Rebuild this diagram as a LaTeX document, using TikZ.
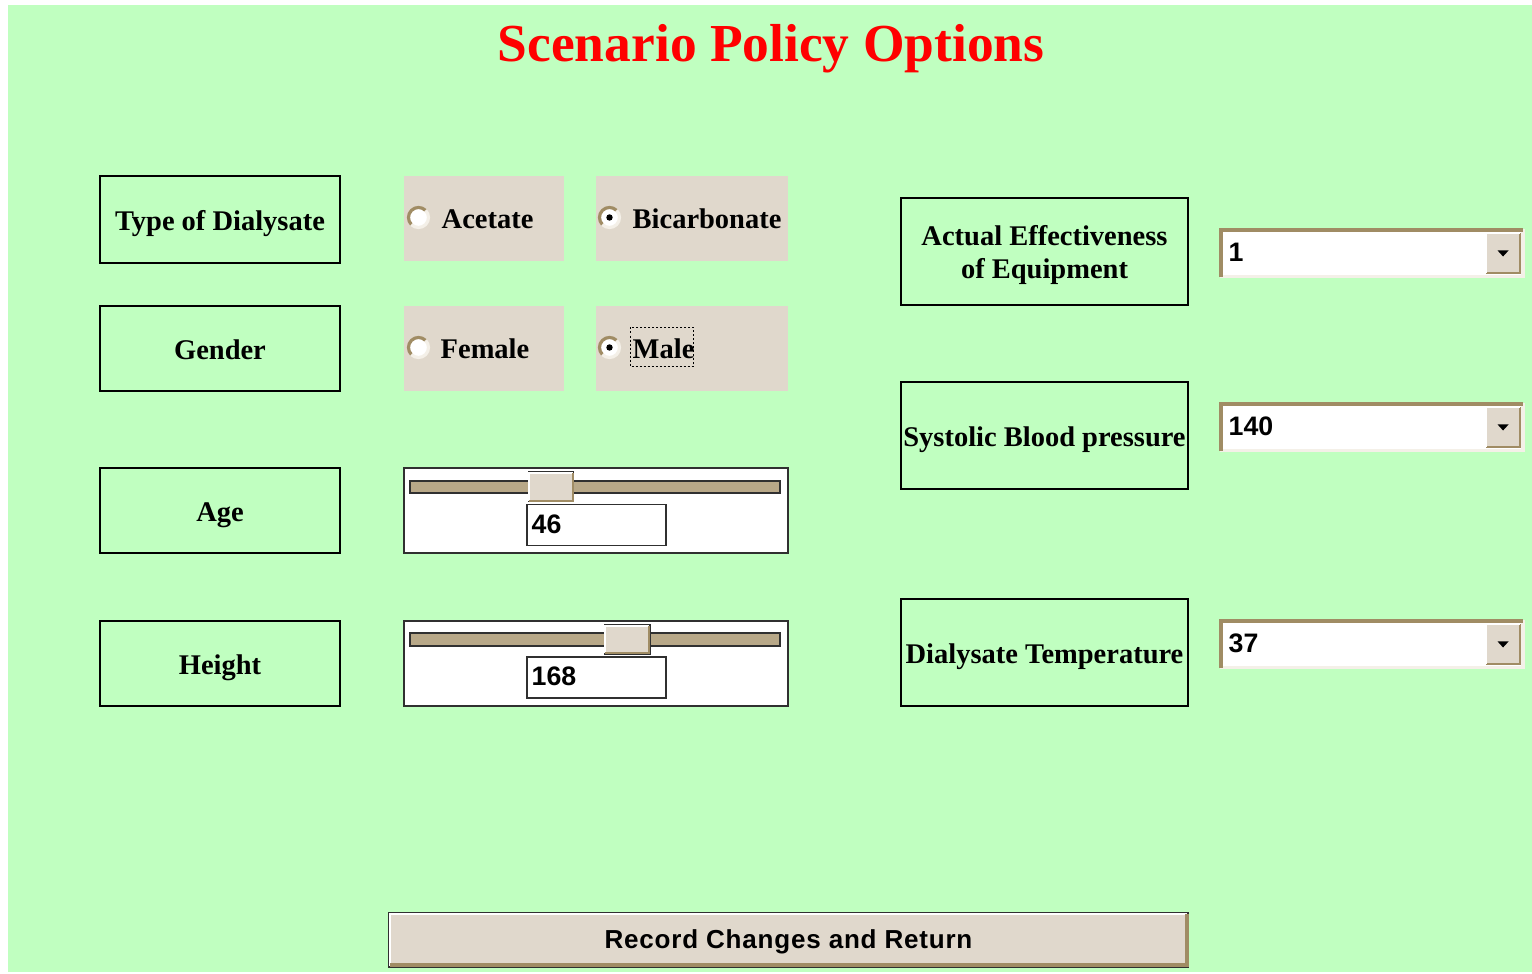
\documentclass[tikz,border=0pt]{standalone}
\usepackage{fontspec}
\setmainfont{Liberation Serif}
\setsansfont{Liberation Sans}
\definecolor{bggreen}{RGB}{192,255,192}
\definecolor{panel}{RGB}{224,216,204}
\definecolor{track}{RGB}{184,168,136}
\definecolor{tanedge}{RGB}{160,140,100}
\definecolor{lightedge}{RGB}{244,240,232}
\definecolor{darkedge}{RGB}{48,48,48}
\tikzset{
  lbl/.style={draw=black, line width=0.6pt, align=center, inner sep=0pt,
    font=\fontsize{8.1}{9.6}\selectfont\bfseries},
  onelbl/.style={lbl, text height=7pt, text depth=1pt},
  lbltext/.style={inner sep=0pt, align=center, font=\fontsize{8.1}{9.6}\selectfont\bfseries},
  radiopanel/.style={fill=panel, inner sep=0pt},
  radiotext/.style={anchor=base west, inner sep=0pt, font=\fontsize{8.1}{9.6}\selectfont\bfseries},
  radiobtn/.style={circle, fill=white, minimum size=0.2cm, inner sep=0pt},
  sliderpanel/.style={draw=darkedge, fill=white, line width=0.5pt, inner sep=0pt},
  trackbar/.style={draw=darkedge, fill=track, line width=0.5pt, inner sep=0pt},
  thumb/.style={draw=darkedge, fill=panel, line width=0.5pt, inner sep=0pt},
  valuebox/.style={draw=darkedge, fill=white, line width=0.5pt, inner sep=0pt},
  valuetext/.style={anchor=base west, inner sep=0pt, font=\sffamily\bfseries\fontsize{7.6}{9}\selectfont},
  combo/.style={fill=white, inner sep=0pt},
  combobtn/.style={fill=panel, inner sep=0pt},
  pushbtn/.style={draw=darkedge, fill=panel, line width=0.6pt, inner sep=0pt},
  pushtext/.style={inner sep=0pt, anchor=base, font=\sffamily\bfseries\fontsize{7.4}{9}\selectfont\addfontfeature{LetterSpace=3}},
}
\begin{document}
\begin{tikzpicture}[x=0.01cm,y=-0.01cm]
\useasboundingbox (0,0) rectangle (1532,974);
\fill[bggreen] (8,5) rectangle (1532,972);

% title
\node[text=red, font=\fontsize{15.2}{18}\selectfont\bfseries, inner sep=0pt, anchor=base] (title) at (771,62) {Scenario Policy Options};

% left labels
\node[onelbl, minimum width=2.4cm, minimum height=0.87cm] (tod) at (220,219.5) {Type of Dialysate};
\node[onelbl, minimum width=2.4cm, minimum height=0.85cm] (gen) at (220,348.5) {Gender};
\node[onelbl, minimum width=2.4cm, minimum height=0.85cm] (age) at (220,510.5) {Age};
\node[onelbl, minimum width=2.4cm, minimum height=0.85cm] (hgt) at (220,663.5) {Height};

% radio panels
\node[radiopanel, minimum width=1.6cm, minimum height=0.85cm] (pAcet) at (484,218.5) {};
\node[radiopanel, minimum width=1.92cm, minimum height=0.85cm] (pBic) at (692,218.5) {};
\node[radiopanel, minimum width=1.6cm, minimum height=0.85cm] (pFem) at (484,348.5) {};
\node[radiopanel, minimum width=1.92cm, minimum height=0.85cm] (pMale) at (692,348.5) {};

% radio buttons
\foreach \n/\cx/\cy in {rAcet/418.5/217.5, rBic/609.5/217.5, rFem/418.5/347.5, rMale/609.5/347.5}{
  \node[radiobtn] (\n) at (\cx,\cy) {};
  \draw[tanedge, line width=0.9pt] (\n.center) ++(45:0.1cm) arc (45:225:0.1cm);
  \draw[lightedge, line width=0.9pt] (\n.center) ++(225:0.1cm) arc (225:405:0.1cm);
}
\fill[black] (rBic.center) circle (0.032cm);
\fill[black] (rMale.center) circle (0.032cm);

\node[radiotext] (tAcet) at (441,228.5) {Acetate};
\node[radiotext] (tBic) at (632,228.5) {Bicarbonate};
\node[radiotext] (tFem) at (440,358.5) {Female};
\node[radiotext] (tMale) at (632,358.5) {Male};
\draw[black, line width=0.45pt, dash pattern=on 0.57pt off 0.57pt] (630.5,327.5) rectangle (693.5,366.5);

% sliders
\node[sliderpanel, minimum width=3.84cm, minimum height=0.85cm] (sAge) at (596,510.5) {};
\node[trackbar, minimum width=3.7cm, minimum height=0.125cm] (trAge) at (595,487) {};
\node[thumb, minimum width=0.45cm, minimum height=0.29cm] (thAge) at (551,486.8) {};
\draw[white, line width=0.6pt] ([shift={(1.5,-1.5)}]thAge.south west) |- ([shift={(-1.5,1.5)}]thAge.north east);
\draw[tanedge, line width=0.6pt] ([shift={(1.5,-1.5)}]thAge.south west) -| ([shift={(-1.5,1.5)}]thAge.north east);
\node[valuebox, minimum width=1.39cm, minimum height=0.41cm] (vAge) at (596.3,525) {};
\node[valuetext] (tAge) at (531,534) {46};

\node[sliderpanel, minimum width=3.84cm, minimum height=0.85cm] (sHgt) at (596,663.5) {};
\node[trackbar, minimum width=3.7cm, minimum height=0.13cm] (trHgt) at (595,639.2) {};
\node[thumb, minimum width=0.45cm, minimum height=0.29cm] (thHgt) at (627.2,639.5) {};
\draw[white, line width=0.6pt] ([shift={(1.5,-1.5)}]thHgt.south west) |- ([shift={(-1.5,1.5)}]thHgt.north east);
\draw[tanedge, line width=0.6pt] ([shift={(1.5,-1.5)}]thHgt.south west) -| ([shift={(-1.5,1.5)}]thHgt.north east);
\node[valuebox, minimum width=1.39cm, minimum height=0.41cm] (vHgt) at (596.3,677.2) {};
\node[valuetext] (tHgt) at (531,686) {168};

% right labels
\node[lbl, minimum width=2.87cm, minimum height=1.07cm] (eff) at (1044.5,251.5) {};
\node[lbltext] (effText) at (1044.5,255) {Actual Effectiveness\\of Equipment};
\node[onelbl, minimum width=2.87cm, minimum height=1.07cm] (sbp) at (1044.5,435.5) {Systolic Blood pressure};
\node[onelbl, minimum width=2.87cm, minimum height=1.07cm] (dtemp) at (1044.5,652.5) {Dialysate Temperature};

% combo boxes
\foreach \n/\cy/\val in {cEff/253/1, cSbp/427/140, cTemp/644/37}{
  \node[combo, minimum width=3.01cm, minimum height=0.46cm] (\n) at (1371.5,\cy) {};
  \draw[lightedge, line width=1pt] (\n.south west) -- (\n.south east) -- (\n.north east);
  \draw[tanedge, line width=1.1pt] ([shift={(1,0)}]\n.south west) |- ([shift={(0,1)}]\n.north east);
  \node[combobtn, minimum width=0.33cm, minimum height=0.38cm, anchor=east] (\n btn) at ([shift={(-2.5,0)}]\n.east) {};
  \draw[tanedge, line width=0.6pt] (\n btn.south west) -| (\n btn.north east);
  \draw[white, line width=0.5pt] (\n btn.south west) |- (\n btn.north east);
  \fill[black] ([shift={(-5.5,-2.5)}]\n btn.center) -- ([shift={(5.5,-2.5)}]\n btn.center) -- ([shift={(0,3.5)}]\n btn.center) -- cycle;
  \node[valuetext] (\n txt) at (1228,\cy+9) {\val};
}

% push button
\node[pushbtn, minimum width=7.99cm, minimum height=0.53cm] (record) at (788.5,940) {};
\draw[white, line width=0.6pt] ([shift={(2,-2)}]record.south west) |- ([shift={(-2,2)}]record.north east);
\draw[tanedge, line width=1.2pt] ([shift={(2,-2.5)}]record.south west) -| ([shift={(-2.5,2)}]record.north east);
\node[pushtext] (recordText) at (788.5,949) {Record Changes and Return};
\end{tikzpicture}
\end{document}
